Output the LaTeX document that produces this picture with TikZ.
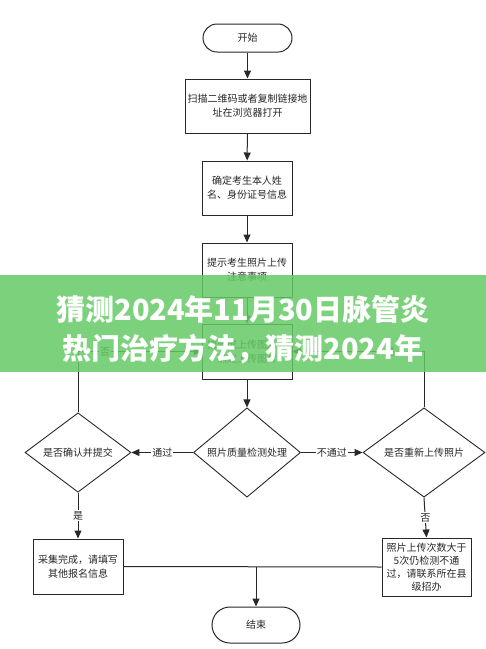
\documentclass[tikz,border=0pt]{standalone}
\usepackage{fontspec}
\setmainfont{Noto Sans CJK SC}
\usetikzlibrary{arrows.meta,shapes.geometric,positioning}
\definecolor{bannergreen}{RGB}{101,202,101}
\definecolor{linegray}{RGB}{40,40,40}

\begin{document}
\begin{tikzpicture}[x=1pt,y=-1pt,
  box/.style={draw=linegray,line width=1pt,align=center,inner sep=0pt,
    font=\fontsize{10}{14}\selectfont,text=black!85},
  term/.style={box,rounded corners=#1},
  decide/.style={diamond,draw=linegray,line width=0.9pt,align=center,inner sep=0pt,
    font=\fontsize{10}{14}\selectfont,text=black!85},
  flow/.style={-{Triangle[length=8pt,width=7pt]},draw=linegray,line width=1pt},
  lab/.style={fill=white,inner sep=1pt,font=\fontsize{10}{12}\selectfont,text=black!85}]
  \useasboundingbox (0,0) rectangle (486,649);
  % main column
  \node[term=14pt,minimum width=89,minimum height=28] (start) at (247.5,38) {开始};
  \node[box,minimum width=125,minimum height=54] (scan) at (247.5,106) {扫描二维码或者复制链接地\\址在浏览器打开};
  \node[box,minimum width=90,minimum height=54] (info) at (247,188) {确定考生本人姓\\名、身份证号信息};
  \node[box,minimum width=90,minimum height=54] (notice) at (247,270) {提示考生照片上传\\注意事项};
  \node[box,minimum width=90,minimum height=55] (upload) at (247,351.5) {拍照或上传图片，\\确定上传图片};
  \node[decide,minimum width=107,minimum height=65] (check) at (247,452.5) {照片质量检测处理};
  % branches
  \node[decide,minimum width=106,minimum height=66] (confirm) at (78,452.5) {是否确认并提交};
  \node[decide,minimum width=122,minimum height=77] (retry) at (424,452.5) {是否重新上传照片};
  \node[box,minimum width=90,minimum height=55] (done) at (78,566.5) {采集完成，请填写\\其他报名信息};
  \node[box,minimum width=89,minimum height=58,font=\fontsize{10}{13}\selectfont] (fail) at (426.5,567) {照片上传次数大于\\5次仍检测不通\\过，请联系所在县\\级招办};
  \node[term=18pt,minimum width=88,minimum height=36] (finish) at (256,625) {结束};
  \coordinate (merge) at (256,567);

  \draw[flow] (start) -- (scan);
  \draw[flow] (scan) -- (info);
  \draw[flow] (info) -- (notice);
  \draw[flow] (notice) -- (upload);
  \draw[flow] (upload) -- (check);
  \draw[flow] (check.west) -- node[lab]{通过} (confirm.east);
  \draw[flow] (check.east) -- node[lab]{不通过} (retry.west);
  \draw[flow] (confirm.south) -- node[lab]{是} (done.north);
  \draw[flow] (retry.south) -- node[lab]{否} (fail.north);
  \draw[flow] (confirm.north) |- node[lab,pos=0.61]{否} (upload.west);
  \draw[flow] (retry.north) |- node[lab,pos=0.63]{是} (upload.east);
  \draw[linegray,line width=1pt] (done.east) -- (fail.west);
  \draw[flow] (merge) -- (finish);

  % banner
  \fill[bannergreen,opacity=0.85] (0,275) rectangle (486,372);
  \node[text=white,font=\fontsize{29}{40}\selectfont\bfseries] (title1) at (243,309) {猜测2024年11月30日脉管炎};
  \node[text=white,font=\fontsize{29}{40}\selectfont\bfseries] (title2) at (243,349) {热门治疗方法，猜测2024年};
\end{tikzpicture}
\end{document}
